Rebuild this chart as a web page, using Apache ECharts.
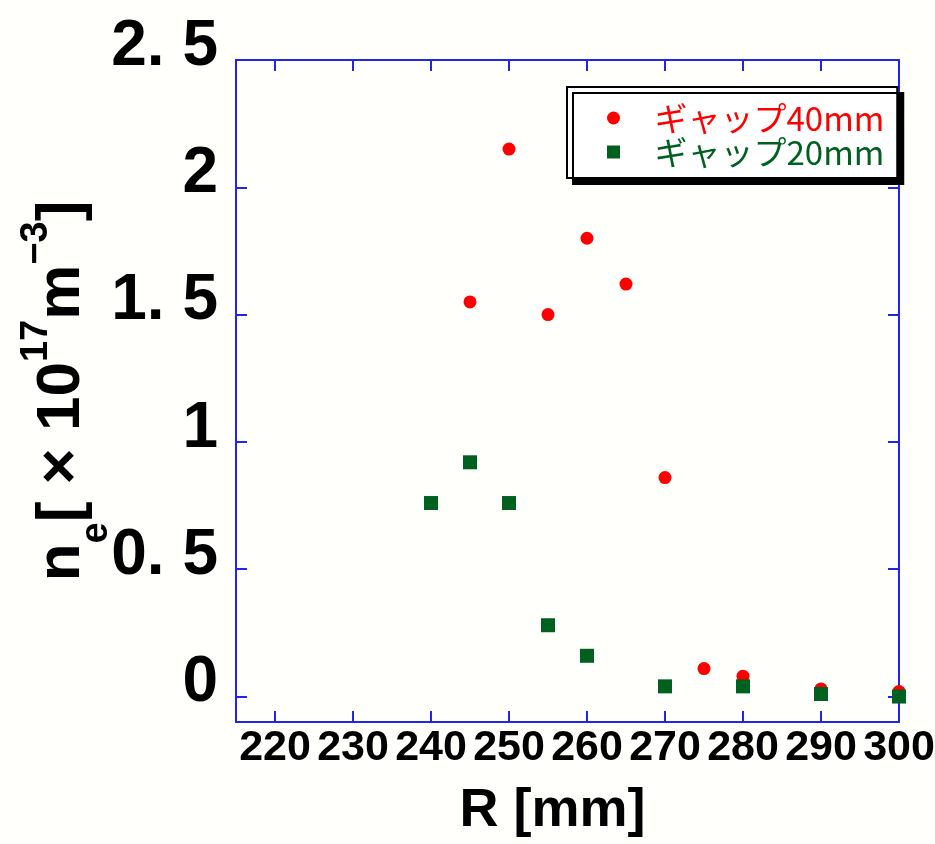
<!DOCTYPE html>
<html>
<head>
<meta charset="utf-8">
<script src="https://cdn.jsdelivr.net/npm/echarts@6/dist/echarts.min.js"></script>
<style>
  html, body { margin: 0; padding: 0; background: #fffffb; }
  #chart { width: 935px; height: 844px; }
</style>
</head>
<body>
<div id="chart"></div>
<script>
// Electron density profiles n_e versus radius R for two gap widths
const seriesNames = ['ギャップ40mm', 'ギャップ20mm'];

const radius40 = [245, 250, 255, 260, 265, 270, 275, 280, 290, 300];
const density40 = [1.55, 2.15, 1.50, 1.80, 1.62, 0.86, 0.11, 0.08, 0.03, 0.02];

const radius20 = [240, 245, 250, 255, 260, 270, 280, 290, 300];
const density20 = [0.76, 0.92, 0.76, 0.28, 0.16, 0.04, 0.04, 0.01, 0.00];

const xTickValues = [220, 230, 240, 250, 260, 270, 280, 290, 300];
const yTickValues = [0, 0.5, 1, 1.5, 2, 2.5];
const yTickLabels = ['0', '0. 5', '1', '1. 5', '2', '2. 5'];

const AXIS_BLUE = '#2323ee';
const RED = '#ff0000';
const GREEN = '#006020';
const SANS = "'Liberation Sans', Arial, sans-serif";

const pairs = (xs, ys) => xs.map((x, i) => [x, ys[i]]);

const chart = echarts.init(document.getElementById('chart'));

const frameAxis = {
  axisLine: { show: true, onZero: false, lineStyle: { color: AXIS_BLUE, width: 2 } },
  axisTick: { show: true, inside: true, length: 11, lineStyle: { color: AXIS_BLUE, width: 2 } },
  splitLine: { show: false }
};

chart.setOption({
  backgroundColor: '#fffffb',
  animation: false,
  grid: { left: 236, right: 36, top: 60, bottom: 122, containLabel: false, outerBoundsMode: 'none' },
  legend: {
    orient: 'vertical',
    left: 567,
    top: 87,
    padding: [14, 13, 9, 40],
    itemGap: 0,
    itemWidth: 72,
    itemHeight: 13,
    backgroundColor: '#ffffff',
    borderColor: '#000000',
    borderWidth: 2,
    shadowColor: '#000000',
    shadowBlur: 0,
    shadowOffsetX: 6,
    shadowOffsetY: 6,
    textStyle: { fontSize: 33, lineHeight: 34, fontFamily: "'Noto Sans CJK JP', sans-serif" },
    data: [
      { name: seriesNames[0], icon: 'circle', textStyle: { color: RED } },
      { name: seriesNames[1], icon: 'path://M0,0H10V10H0Z', textStyle: { color: GREEN } }
    ]
  },
  xAxis: [
    Object.assign({}, frameAxis, {
      type: 'value',
      position: 'bottom',
      min: 215,
      max: 300,
      axisTick: Object.assign({}, frameAxis.axisTick, { customValues: xTickValues }),
      axisLabel: {
        customValues: xTickValues,
        showMinLabel: true,
        showMaxLabel: true,
        hideOverlap: false,
        margin: 5,
        color: '#000',
        fontSize: 43,
        fontWeight: 'bold',
        fontFamily: SANS
      },
      name: 'R [mm]  ',
      nameLocation: 'middle',
      nameGap: 62,
      nameTextStyle: {
        color: '#000',
        fontSize: 54,
        fontWeight: 'bold',
        fontFamily: SANS,
        verticalAlign: 'top'
      }
    }),
    Object.assign({}, frameAxis, {
      type: 'value',
      position: 'top',
      min: 215,
      max: 300,
      axisTick: Object.assign({}, frameAxis.axisTick, { customValues: xTickValues }),
      axisLabel: { show: false }
    })
  ],
  yAxis: [
    Object.assign({}, frameAxis, {
      type: 'value',
      position: 'left',
      min: -0.1,
      max: 2.5,
      axisTick: Object.assign({}, frameAxis.axisTick, { customValues: yTickValues }),
      axisLabel: {
        customValues: yTickValues,
        showMinLabel: true,
        showMaxLabel: true,
        hideOverlap: false,
        margin: 18,
        formatter: v => '{v|' + yTickLabels[yTickValues.indexOf(v)] + '}',
        rich: {
          v: {
            color: '#000',
            fontSize: 64,
            lineHeight: 64,
            fontWeight: 'bold',
            fontFamily: SANS,
            padding: [0, 0, 26, 0]
          }
        }
      },
      name: '{m|n}{sub|e}{m|[ × 10}{sup|17}{m|m}{sup|−3}{m|]}',
      nameLocation: 'middle',
      nameRotate: 90,
      nameGap: 171,
      nameMoveOverlap: false,
      nameTextStyle: {
        color: '#000',
        rich: {
          m: { fontSize: 62, lineHeight: 62, padding: [28, 0, 0, 0], verticalAlign: 'top', fontWeight: 'bold', fontFamily: SANS, color: '#000' },
          sup: { fontSize: 38, lineHeight: 38, padding: [15, 0, 0, 0], verticalAlign: 'top', fontWeight: 'bold', fontFamily: SANS, color: '#000' },
          sub: { fontSize: 38, lineHeight: 38, padding: [75, 0, 0, 0], verticalAlign: 'top', fontWeight: 'bold', fontFamily: SANS, color: '#000' }
        }
      }
    }),
    Object.assign({}, frameAxis, {
      type: 'value',
      position: 'right',
      min: -0.1,
      max: 2.5,
      axisTick: Object.assign({}, frameAxis.axisTick, { customValues: yTickValues }),
      axisLabel: { show: false }
    })
  ],
  series: [
    {
      name: seriesNames[0],
      type: 'scatter',
      symbol: 'circle',
      symbolSize: 13,
      clip: false,
      itemStyle: { color: RED, opacity: 1 },
      data: pairs(radius40, density40)
    },
    {
      name: seriesNames[1],
      type: 'scatter',
      symbol: 'rect',
      symbolSize: 14,
      clip: false,
      itemStyle: { color: GREEN, opacity: 1 },
      data: pairs(radius20, density20)
    }
  ]
});
</script>
</body>
</html>
